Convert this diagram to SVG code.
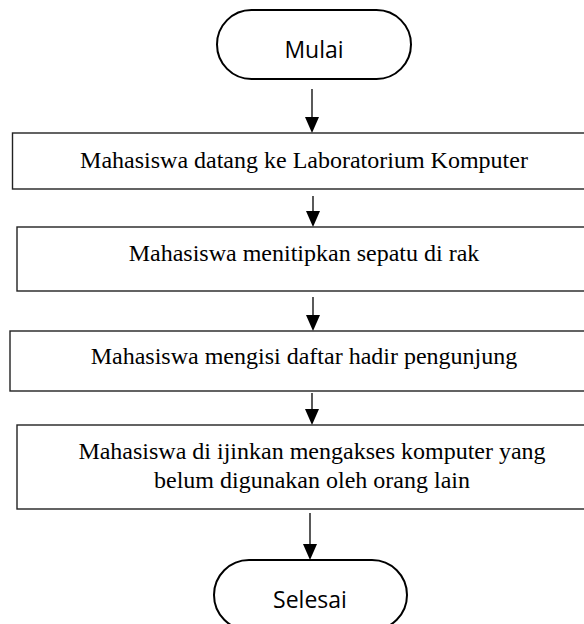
<svg xmlns="http://www.w3.org/2000/svg" width="584" height="624" viewBox="0 0 584 624">
  <style>
    .term { fill: #ffffff; stroke: #000000; stroke-width: 2; }
    .box { fill: #ffffff; stroke: #222222; stroke-width: 1.4; }
    .sans { font-family: "Open Sans", "Noto Sans", sans-serif; font-size: 23px; fill: #000000; text-anchor: middle; }
    .serif { font-family: "Liberation Serif", "Times New Roman", serif; font-size: 24px; fill: #000000; text-anchor: middle; }
    .shaft { stroke: #000000; stroke-width: 1.3; }
    .tip { fill: #000000; }
  </style>

  <rect width="584" height="624" fill="#ffffff"/>

  <!-- connectors: vertical shafts with filled triangular heads -->
  <g id="connectors">
    <line class="shaft" x1="312" y1="89" x2="312" y2="117"/>
    <path class="tip" d="M305,117 L319,117 L312,133 Z"/>
    <line class="shaft" x1="313" y1="196" x2="313" y2="211"/>
    <path class="tip" d="M306,211 L320,211 L313,227 Z"/>
    <line class="shaft" x1="313" y1="297" x2="313" y2="315"/>
    <path class="tip" d="M306,315 L320,315 L313,331 Z"/>
    <line class="shaft" x1="312" y1="393" x2="312" y2="409"/>
    <path class="tip" d="M305,409 L319,409 L312,425 Z"/>
    <line class="shaft" x1="310" y1="513" x2="310" y2="544"/>
    <path class="tip" d="M303,544 L317,544 L310,560 Z"/>
  </g>

  <g id="start">
    <rect class="term" x="217" y="10" width="194" height="69" rx="34.5" ry="34.5"/>
    <text class="sans" x="314" y="58">Mulai</text>
  </g>

  <g id="step1">
    <rect class="box" x="12.5" y="133" width="590" height="56"/>
    <text class="serif" x="304" y="168">Mahasiswa datang ke Laboratorium Komputer</text>
  </g>

  <g id="step2">
    <rect class="box" x="17" y="227" width="590" height="64"/>
    <text class="serif" x="304" y="261">Mahasiswa menitipkan sepatu di rak</text>
  </g>

  <g id="step3">
    <rect class="box" x="10" y="331" width="590" height="60"/>
    <text class="serif" x="304" y="364">Mahasiswa mengisi daftar hadir pengunjung</text>
  </g>

  <g id="step4">
    <rect class="box" x="17" y="425" width="590" height="84"/>
    <text class="serif" x="312" y="459">Mahasiswa di ijinkan mengakses komputer yang</text>
    <text class="serif" x="312" y="488">belum digunakan oleh orang lain</text>
  </g>

  <g id="end">
    <rect class="term" x="214" y="560" width="193" height="70" rx="35" ry="35"/>
    <text class="sans" x="310" y="608">Selesai</text>
  </g>
</svg>
